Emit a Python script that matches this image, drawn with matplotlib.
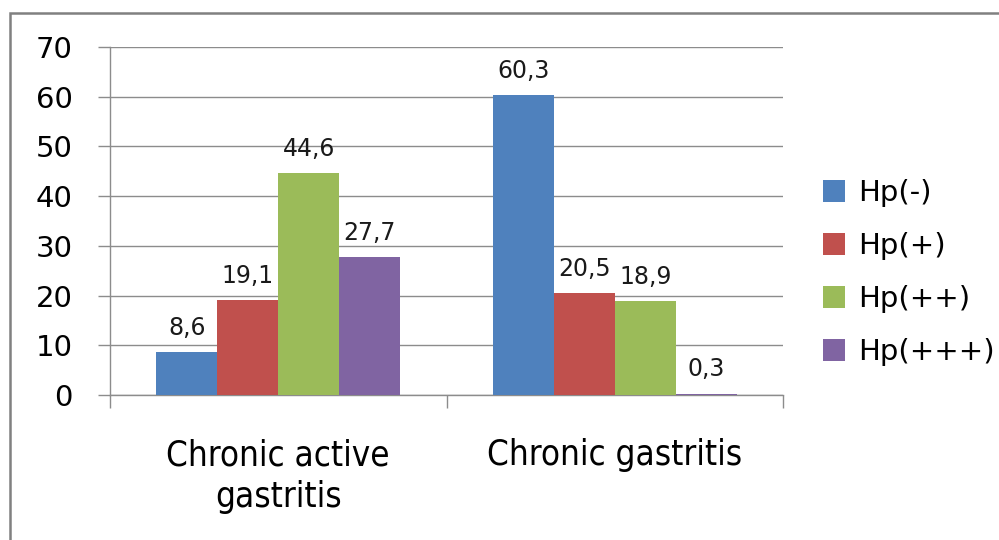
import matplotlib.pyplot as plt
import numpy as np
from matplotlib.patches import Rectangle

# Categories and series
categories = ['Chronic active\ngastritis', 'Chronic gastritis']
series = ['Hp(-)', 'Hp(+)', 'Hp(++)', 'Hp(+++)']
hp_neg = [8.6, 60.3]
hp_pos1 = [19.1, 20.5]
hp_pos2 = [44.6, 18.9]
hp_pos3 = [27.7, 0.3]
colors = ['#4F81BD', '#C0504D', '#9BBB59', '#8064A2']

values = [hp_neg, hp_pos1, hp_pos2, hp_pos3]
grey = '#8C8C8C'

fig = plt.figure(figsize=(9.99, 5.4), dpi=100)
ax = fig.add_axes([0.1101, 0.2685, 0.6737, 0.6444])

x = np.arange(len(categories))
bar_width = 0.181
for i, (name, vals, c) in enumerate(zip(series, values, colors)):
    offset = (i - 1.5) * bar_width
    bars = ax.bar(x + offset, vals, width=bar_width, color=c, label=name, zorder=3)
    ax.bar_label(bars, labels=[f'{v:.1f}'.replace('.', ',') for v in vals],
                 padding=9, fontsize=17, color='#1a1a1a')

ax.set_xlim(-0.5, 1.5)
ax.set_ylim(0, 70)
ax.set_yticks(np.arange(0, 71, 10))
ax.grid(axis='y', color=grey, linewidth=1, zorder=0)

# category boundary ticks, labels centred between them
ax.set_xticks([-0.5, 0.5, 1.5])
ax.set_xticklabels([])
ax.set_xticks(x, minor=True)
ax.set_xticklabels(categories, minor=True, fontsize=25, stretch='condensed',
                   linespacing=1.3, va='top')
ax.tick_params(axis='x', which='minor', length=0, pad=31)
ax.tick_params(axis='x', which='major', length=9, color=grey, width=1)
ax.tick_params(axis='y', length=9, color=grey, width=1, pad=18, labelsize=21)

for s in ['top', 'right']:
    ax.spines[s].set_visible(False)
for s in ['left', 'bottom']:
    ax.spines[s].set_color(grey)
    ax.spines[s].set_linewidth(1)

ax.legend(loc='center left', bbox_to_anchor=(0.824, 0.495),
          bbox_transform=fig.transFigure, frameon=False, fontsize=21,
          borderpad=0, borderaxespad=0, handlelength=0.75, handleheight=0.75,
          handletextpad=0.45, labelspacing=0.86)

# outer chart border
fig.patches.append(Rectangle((10 / 999, -0.1), 1.2, 1 - 13 / 540 + 0.1,
                             transform=fig.transFigure, fill=False,
                             edgecolor='#808080', linewidth=1.8))

plt.savefig('out.png', dpi=100)
